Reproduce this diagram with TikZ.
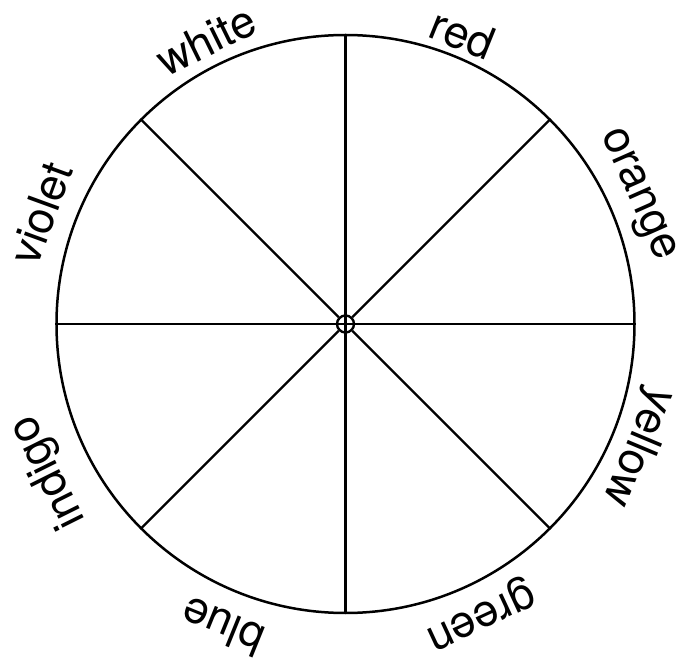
\documentclass[tikz,border=0pt]{standalone}
\usepackage{fontspec}
\setmainfont{TeX Gyre Heros}
\usetikzlibrary{calc}
\begin{document}
\begin{tikzpicture}[x=1pt,y=-1pt,
  spoke/.style={line width=2.2pt, black},
  lbl/.style={font=\fontsize{45}{45}\selectfont, inner sep=0pt, anchor=center}]
\useasboundingbox (0,0) rectangle (681,663);
\coordinate (c) at (345.5,324);
\node[circle, draw, line width=2.5pt, minimum size=578pt, inner sep=0pt] (wheel) at (c) {};
\node[circle, draw, line width=2.4pt, minimum size=17pt, inner sep=0pt] (hub) at (c) {};
\draw[spoke] (wheel.west) -- (wheel.east);
\draw[spoke] (wheel.north) -- (wheel.south);
\foreach \a in {45,135,225,315}{
  \draw[spoke] (hub.\a) -- (wheel.\a);
}
\foreach \t/\a/\r in {red/68/312.7, orange/23.9/318, yellow/-22.8/317, green/-65.1/318.6, blue/-112.1/327, indigo/-153.5/332, violet/160/324.6, white/116.2/316.6}{
  \pgfmathsetmacro{\rot}{\a-90}
  \node[lbl, rotate=\rot] (l-\t) at ($(c)+(\a:\r pt)$) {\t};
}
\end{tikzpicture}
\end{document}
